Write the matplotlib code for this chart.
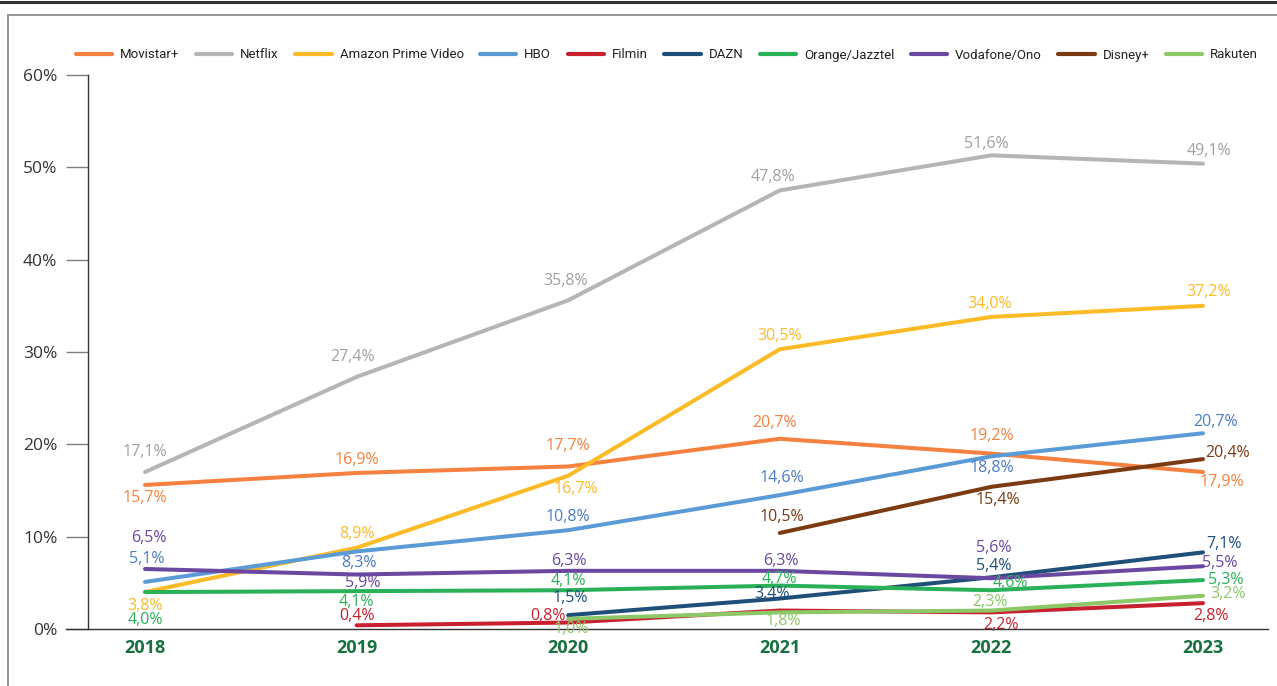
import matplotlib
matplotlib.use("Agg")
import matplotlib.pyplot as plt
from matplotlib.lines import Line2D
import numpy as np

years = ["2018", "2019", "2020", "2021", "2022", "2023"]

series_names = ["Movistar+", "Netflix", "Amazon Prime Video", "HBO", "Filmin",
                "DAZN", "Orange/Jazztel", "Vodafone/Ono", "Disney+", "Rakuten"]

# values as drawn by the lines (percent); None = no data
movistar = [15.6, 16.9, 17.6, 20.6, 19.0, 17.0]
netflix = [17.0, 27.3, 35.6, 47.5, 51.3, 50.4]
amazon = [4.0, 8.8, 16.6, 30.3, 33.8, 35.0]
hbo = [5.1, 8.4, 10.7, 14.5, 18.7, 21.2]
filmin = [None, 0.4, 0.7, 2.0, 1.8, 2.8]
dazn = [None, None, 1.5, 3.3, 5.6, 8.3]
orange = [4.0, 4.1, 4.2, 4.7, 4.2, 5.3]
vodafone = [6.5, 5.9, 6.3, 6.3, 5.5, 6.8]
disney = [None, None, None, 10.4, 15.4, 18.4]
rakuten = [None, None, 1.1, 1.8, 2.0, 3.6]

# printed value labels
movistar_lbl = ["15,7%", "16,9%", "17,7%", "20,7%", "19,2%", "17,9%"]
netflix_lbl = ["17,1%", "27,4%", "35,8%", "47,8%", "51,6%", "49,1%"]
amazon_lbl = ["3,8%", "8,9%", "16,7%", "30,5%", "34,0%", "37,2%"]
hbo_lbl = ["5,1%", "8,3%", "10,8%", "14,6%", "18,8%", "20,7%"]
filmin_lbl = [None, "0,4%", "0,8%", None, "2,2%", "2,8%"]
dazn_lbl = [None, None, "1,5%", "3,4%", "5,4%", "7,1%"]
orange_lbl = ["4,0%", "4,1%", "4,1%", "4,7%", "4,6%", "5,3%"]
vodafone_lbl = ["6,5%", "5,9%", "6,3%", "6,3%", "5,6%", "5,5%"]
disney_lbl = [None, None, None, "10,5%", "15,4%", "20,4%"]
rakuten_lbl = [None, None, "1,0%", "1,8%", "2,3%", "3,2%"]

yticks = [0, 10, 20, 30, 40, 50, 60]
ytick_labels = ["0%", "10%", "20%", "30%", "40%", "50%", "60%"]

# ---- styling (not data) ----
line_colors = ["#F4813F", "#B5B5B7", "#FBBB27", "#5B9BD5", "#C8202F",
               "#1F4E79", "#2BB05A", "#6A47A0", "#7B3A12", "#8CC866"]
label_colors = ["#F4813F", "#A0A0A2", "#FBBB27", "#4A7CC4", "#C8202F",
                "#1F4E79", "#2BB05A", "#6A47A0", "#7B3A12", "#8CC866"]

# label offsets in pixels (dx, dy) relative to each point
offsets = [
    [(0, -13), (0, 13), (0, 20), (-5, 16), (0, 18), (19, -10)],
    [(0, 20), (-4, 20), (-3, 19), (-7, 13), (-5, 11), (6, 13)],
    [(0, -14), (0, 14), (8, -13), (0, 13), (-2, 13), (6, 14)],
    [(2, 23), (2, -12), (0, 13), (2, 17), (0, -12), (13, 11)],
    [None, (0, 9), (-20, 7), None, (10, -13), (8, -13)],
    [None, None, (2, 17), (-8, 5), (2, 11), (21, 8)],
    [(0, -28), (0, -11), (0, 9), (0, 7), (19, 7), (23, 0)],
    [(4, 31), (6, -8), (1, 10), (1, 10), (2, 30), (17, 3)],
    [None, None, None, (2, 16), (6, -13), (25, 6)],
    [None, None, (3, -10), (3, -9), (-1, 9), (25, 2)],
]

all_vals = [movistar, netflix, amazon, hbo, filmin, dazn, orange, vodafone, disney, rakuten]
all_lbls = [movistar_lbl, netflix_lbl, amazon_lbl, hbo_lbl, filmin_lbl, dazn_lbl,
            orange_lbl, vodafone_lbl, disney_lbl, rakuten_lbl]

W, H = 1277, 686
fig = plt.figure(figsize=(W / 100, H / 100), dpi=100)
fig.patch.set_facecolor("white")

ax_left, ax_right, ax_bottom, ax_top = 88, 1268, 629, 75
ax = fig.add_axes([ax_left / W, 1 - ax_bottom / H, (ax_right - ax_left) / W, (ax_bottom - ax_top) / H])

label_font = ["Open Sans", "DejaVu Sans"]
x = np.arange(len(years))

for name, vals, lbls, lc, tc, offs in zip(series_names, all_vals, all_lbls,
                                          line_colors, label_colors, offsets):
    xs = [xi for xi, v in zip(x, vals) if v is not None]
    ys = [v for v in vals if v is not None]
    ax.plot(xs, ys, color=lc, lw=2.9, label=name, solid_capstyle="round",
            solid_joinstyle="round", zorder=3)
    for xi, v, t, o in zip(x, vals, lbls, offs):
        if v is None or t is None:
            continue
        ax.annotate(t, (xi, v), xytext=o, textcoords="offset pixels",
                    ha="center", va="center", fontsize=11.5, color=tc,
                    family=label_font, zorder=4)

# x scale: 2018 at px 145, 2023 at px 1203
step = (1203 - 145) / 5
ax.set_xlim((ax_left - 145) / step, (ax_right - 145) / step)
ax.set_ylim(0, 60)

ax.set_yticks(yticks)
ax.set_yticklabels(ytick_labels, family=label_font, fontsize=12.5, color="#333333")
ax.set_xticks(x)
ax.set_xticklabels(years, family=label_font, fontsize=13, fontweight="bold", color="#17703F")

ax.tick_params(axis="y", length=16, width=1.0, color="#7F7F7F", pad=6, direction="out")
ax.tick_params(axis="x", length=0, pad=7)

for s in ["top", "right"]:
    ax.spines[s].set_visible(False)
ax.spines["left"].set_color("#333333")
ax.spines["left"].set_linewidth(1.0)
ax.spines["bottom"].set_color("#333333")
ax.spines["bottom"].set_linewidth(1.0)
ax.spines["bottom"].set_bounds(ax.get_xlim()[0] - 22 / step, ax.get_xlim()[1])
ax.spines["bottom"].set_clip_on(False)

leg = fig.legend(loc="center", bbox_to_anchor=(667 / W, 1 - 55 / H), ncol=10, frameon=False,
                 handlelength=2.75, handletextpad=0.6, columnspacing=1.25,
                 prop={"family": ["Liberation Sans Narrow", "Roboto"], "size": 9.5})
for t in leg.get_texts():
    t.set_color("#222222")
for h in leg.get_lines():
    h.set_linewidth(3)

# page frame decorations
fig.add_artist(Line2D([0, 1], [1 - 1.5 / H, 1 - 1.5 / H], color="#333333", lw=2.2,
                      transform=fig.transFigure))
fig.add_artist(Line2D([7.5 / W, 1], [1 - 14.5 / H, 1 - 14.5 / H], color="#8C8C8C", lw=1.3,
                      transform=fig.transFigure))
fig.add_artist(Line2D([7.5 / W, 7.5 / W], [0, 1 - 14.5 / H], color="#8C8C8C", lw=1.3,
                      transform=fig.transFigure))

fig.savefig("out.png", dpi=100, facecolor="white")
